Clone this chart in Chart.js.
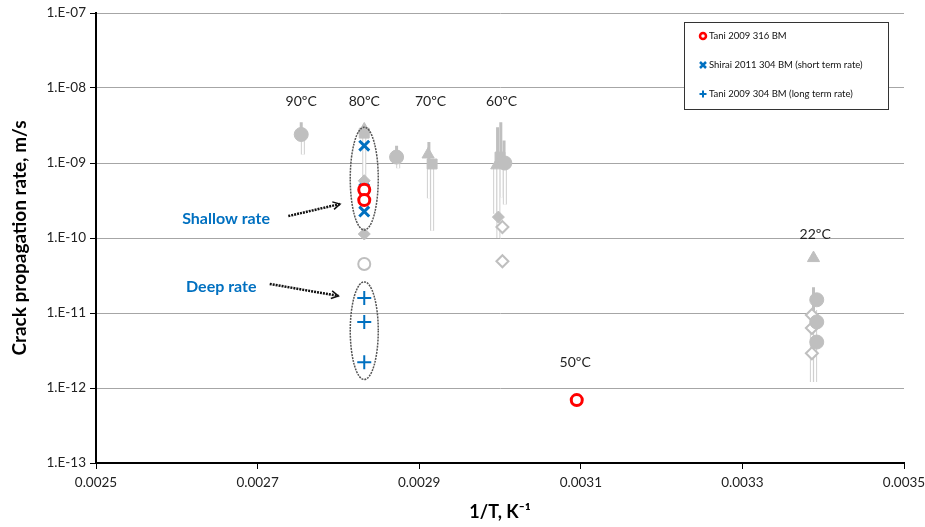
<!DOCTYPE html>
<html>
<head>
<meta charset="utf-8">
<script src="https://cdn.jsdelivr.net/npm/chart.js@4"></script>
<style>
  html, body { margin: 0; padding: 0; background: #fff; }
  #wrap { width: 925px; height: 527px; }
</style>
</head>
<body>
<div id="wrap"><canvas id="c" width="925" height="527"></canvas></div>
<script>
const FONT = "Lato, 'Open Sans', sans-serif";

// tick values
const xTicks = [0.0025, 0.0027, 0.0029, 0.0031, 0.0033, 0.0035];
const yTicks = [1e-13, 1e-12, 1e-11, 1e-10, 1e-9, 1e-8, 1e-7];

// highlighted series
const tani316 = [
  { x: 0.002832, y: 4.4e-10 },
  { x: 0.002832, y: 3.2e-10 },
  { x: 0.003095, y: 6.9e-13 }
];
const shirai304 = [
  { x: 0.002832, y: 1.7e-9 },
  { x: 0.002832, y: 4.5e-10 },
  { x: 0.002832, y: 2.25e-10 }
];
const tani304 = [
  { x: 0.002832, y: 1.58e-11 },
  { x: 0.002832, y: 7.6e-12 },
  { x: 0.002832, y: 2.2e-12 }
];

// grey background data (other studies)
const greyCircles = [
  { x: 0.002754, y: 2.4e-9 },
  { x: 0.002872, y: 1.2e-9 },
  { x: 0.003006, y: 1.0e-9 },
  { x: 0.003392, y: 1.5e-11 },
  { x: 0.003392, y: 7.6e-12 },
  { x: 0.003392, y: 4.1e-12 }
];
const greyTriangles = [
  { x: 0.002832, y: 2.8e-9 },
  { x: 0.002911, y: 1.3e-9 },
  { x: 0.002996, y: 9.3e-10 },
  { x: 0.003388, y: 5.4e-11 }
];
const greySquares = [
  { x: 0.002916, y: 9.7e-10 },
  { x: 0.003000, y: 1.2e-9 },
  { x: 0.002832, y: 2.5e-9 }
];
const greyDiamonds = [
  { x: 0.002832, y: 5.8e-10 },
  { x: 0.002832, y: 1.13e-10 },
  { x: 0.002998, y: 1.9e-10 }
];
const greyOpenDiamonds = [
  { x: 0.003003, y: 1.4e-10 },
  { x: 0.003003, y: 4.9e-11 },
  { x: 0.003386, y: 9.4e-12 },
  { x: 0.003386, y: 6.3e-12 },
  { x: 0.003386, y: 2.9e-12 }
];
const greyOpenCircles = [
  { x: 0.002832, y: 4.5e-11 }
];

// scatter bars [x, top, bottom]
const solidBars = [
  [0.002754, 3.5e-9, 2.4e-9],
  [0.002872, 1.7e-9, 1.2e-9],
  [0.002912, 1.9e-9, 9.7e-10],
  [0.003001, 3.5e-9, 1.0e-9],
  [0.002997, 3.0e-9, 1.0e-9],
  [0.003005, 2.0e-9, 1.0e-9],
  [0.003388, 2.2e-11, 7e-12]
];
const outlineBars = [
  [0.002756, 2.4e-9, 1.3e-9],
  [0.002832, 2.7e-9, 5.8e-10],
  [0.002874, 1.2e-9, 8.5e-10],
  [0.002916, 9.7e-10, 1.25e-10],
  [0.002912, 9.7e-10, 3.4e-10],
  [0.002994, 9.5e-10, 2.1e-10],
  [0.002998, 9.5e-10, 1.0e-10],
  [0.003006, 9.5e-10, 2.8e-10],
  [0.003002, 9.5e-10, 3.5e-10],
  [0.003386, 1.1e-11, 1.2e-12],
  [0.003390, 1.1e-11, 1.2e-12]
];

// temperature labels [text, x, y]
const tempLabels = [
  ["90ºC", 0.002754, 6.7e-9],
  ["80ºC", 0.002832, 6.7e-9],
  ["70ºC", 0.002914, 6.7e-9],
  ["60ºC", 0.003002, 6.7e-9],
  ["50ºC", 0.003093, 2.2e-12],
  ["22ºC", 0.003390, 1.13e-10]
];

const legendItems = [
  "Tani 2009 316 BM",
  "Shirai 2011 304 BM (short term rate)",
  "Tani 2009 304 BM (long term rate)"
];

const GREY = "#bfbfbf";
const BLUE = "#0070c0";
const RED = "#ff0000";

function barSets(list, color, width, order) {
  return list.map(b => ({
    type: "line",
    data: [{ x: b[0], y: b[1] }, { x: b[0], y: b[2] }],
    borderColor: color,
    borderWidth: width,
    pointRadius: 0,
    showLine: true,
    order
  }));
}

function greySet(data, style, filled, radius) {
  return {
    data,
    pointStyle: style,
    pointRadius: radius,
    backgroundColor: filled ? GREY : "#ffffff",
    borderColor: GREY,
    borderWidth: filled ? 1 : 2,
    order: 2
  };
}

const datasets = [
  { label: legendItems[0], data: tani316, pointStyle: "circle", pointRadius: 5.5,
    backgroundColor: "#ffffff", borderColor: RED, borderWidth: 3, order: 0 },
  { label: legendItems[1], data: shirai304, pointStyle: "crossRot", pointRadius: 7,
    borderColor: BLUE, borderWidth: 3, order: 0 },
  { label: legendItems[2], data: tani304, pointStyle: "cross", pointRadius: 7,
    borderColor: BLUE, borderWidth: 2, order: 0 },
  greySet(greyCircles, "circle", true, 7),
  greySet(greyTriangles, "triangle", true, 7),
  greySet(greySquares, "rect", true, 7),
  greySet(greyDiamonds, "rectRot", true, 6),
  greySet(greyOpenDiamonds, "rectRot", false, 6),
  greySet(greyOpenCircles, "circle", false, 6),
  ...barSets(solidBars, GREY, 3, 3),
  ...barSets(outlineBars, "#ffffff", 2, 4),
  ...barSets(outlineBars, "#cfcfcf", 4, 5)
];

const annotate = {
  id: "annotate",
  afterDraw(chart) {
    const { ctx, scales: { x, y }, chartArea } = chart;
    ctx.save();

    // temperature labels
    ctx.fillStyle = "#222";
    ctx.font = "14px " + FONT;
    ctx.textAlign = "center";
    ctx.textBaseline = "middle";
    tempLabels.forEach(t => ctx.fillText(t[0], x.getPixelForValue(t[1]), y.getPixelForValue(t[2])));

    // dotted ellipses round the 80ºC data
    ctx.strokeStyle = "#555";
    ctx.lineWidth = 1.5;
    ctx.setLineDash([2, 1]);
    [[3.0e-9, 1.28e-10], [2.6e-11, 1.3e-12]].forEach(e => {
      const cx = x.getPixelForValue(0.002832);
      const t = y.getPixelForValue(e[0]), b = y.getPixelForValue(e[1]);
      ctx.beginPath();
      ctx.ellipse(cx, (t + b) / 2, 14, (b - t) / 2, 0, 0, Math.PI * 2);
      ctx.stroke();
    });

    // arrows
    ctx.strokeStyle = "#111";
    ctx.lineWidth = 2.5;
    ctx.setLineDash([2, 1]);
    [[0.002738, 1.96e-10, 0.002802, 2.84e-10], [0.002715, 2.44e-11, 0.002800, 1.69e-11]].forEach(a => {
      const x1 = x.getPixelForValue(a[0]), y1 = y.getPixelForValue(a[1]);
      const x2 = x.getPixelForValue(a[2]), y2 = y.getPixelForValue(a[3]);
      ctx.beginPath();
      ctx.moveTo(x1, y1);
      ctx.lineTo(x2, y2);
      ctx.stroke();
      const ang = Math.atan2(y2 - y1, x2 - x1);
      ctx.setLineDash([]);
      ctx.lineWidth = 1.5;
      ctx.beginPath();
      ctx.moveTo(x2 - 8 * Math.cos(ang - 0.5), y2 - 8 * Math.sin(ang - 0.5));
      ctx.lineTo(x2, y2);
      ctx.lineTo(x2 - 8 * Math.cos(ang + 0.5), y2 - 8 * Math.sin(ang + 0.5));
      ctx.stroke();
      ctx.setLineDash([2, 1]);
      ctx.lineWidth = 2.5;
    });
    ctx.setLineDash([]);

    // shallow / deep text
    ctx.fillStyle = BLUE;
    ctx.font = "bold 16px " + FONT;
    ctx.fillText("Shallow rate", x.getPixelForValue(0.002661), y.getPixelForValue(1.79e-10));
    ctx.fillText("Deep rate", x.getPixelForValue(0.002655), y.getPixelForValue(2.22e-11));

    // legend box
    const bw = 204, bh = 87;
    const bx = chartArea.right - 16 - bw, by = chartArea.top + 9;
    ctx.fillStyle = "#fff";
    ctx.fillRect(bx, by, bw, bh);
    ctx.strokeStyle = "#333";
    ctx.lineWidth = 1;
    ctx.strokeRect(bx + 0.5, by + 0.5, bw, bh);
    ctx.font = "9.5px " + FONT;
    ctx.textAlign = "left";
    const rows = [14, 43, 72];
    legendItems.forEach((txt, i) => {
      const my = by + rows[i];
      const mx = bx + 19;
      ctx.fillStyle = "#111";
      ctx.fillText(txt, mx + 6, my);
      if (i === 0) {
        ctx.strokeStyle = RED; ctx.lineWidth = 2.5;
        ctx.beginPath(); ctx.arc(mx, my, 3, 0, Math.PI * 2); ctx.stroke();
      } else if (i === 1) {
        ctx.strokeStyle = BLUE; ctx.lineWidth = 2.5;
        ctx.beginPath();
        ctx.moveTo(mx - 3, my - 3); ctx.lineTo(mx + 3, my + 3);
        ctx.moveTo(mx + 3, my - 3); ctx.lineTo(mx - 3, my + 3);
        ctx.stroke();
      } else {
        ctx.strokeStyle = BLUE; ctx.lineWidth = 2;
        ctx.beginPath();
        ctx.moveTo(mx - 3.5, my); ctx.lineTo(mx + 3.5, my);
        ctx.moveTo(mx, my - 3.5); ctx.lineTo(mx, my + 3.5);
        ctx.stroke();
      }
    });
    ctx.restore();
  }
};

new Chart(document.getElementById("c").getContext("2d"), {
  type: "scatter",
  data: { datasets },
  options: {
    responsive: false,
    animation: false,
    layout: { padding: { top: 13, right: 0, left: 0, bottom: 0 } },
    plugins: { legend: { display: false }, tooltip: { enabled: false } },
    scales: {
      x: {
        type: "linear",
        min: 0.0025,
        max: 0.0035,
        afterBuildTicks: (s) => { s.ticks = xTicks.map(v => ({ value: v })); },
        afterFit: (s) => { s.height = 64; s.paddingRight = 21; },
        ticks: {
          color: "#222",
          font: { family: FONT, size: 13.5 },
          padding: 6,
          maxRotation: 0,
          callback: (v) => v.toFixed(4)
        },
        grid: { drawOnChartArea: false, color: "#000", tickLength: 6 },
        border: { color: "#000", width: 2 },
        title: {
          display: true,
          text: "1/T, K⁻¹",
          color: "#000",
          font: { family: FONT, size: 18, weight: "bold" },
          padding: { top: 4 }
        }
      },
      y: {
        type: "logarithmic",
        min: 1e-13,
        max: 1e-7,
        afterBuildTicks: (s) => { s.ticks = yTicks.map(v => ({ value: v })); },
        afterFit: (s) => { s.width = 96; },
        ticks: {
          color: "#222",
          font: { family: FONT, size: 13.5 },
          padding: 4,
          callback: (v) => "1.E-" + String(Math.round(-Math.log10(v))).padStart(2, "0")
        },
        grid: { color: "#a6a6a6", lineWidth: 1, tickLength: 6, tickColor: "#000" },
        border: { color: "#000", width: 2 },
        title: {
          display: true,
          text: "Crack propagation rate, m/s",
          color: "#000",
          font: { family: FONT, size: 19, weight: "bold" },
          padding: { top: 8, bottom: 0 }
        }
      }
    }
  },
  plugins: [annotate]
});
</script>
</body>
</html>
